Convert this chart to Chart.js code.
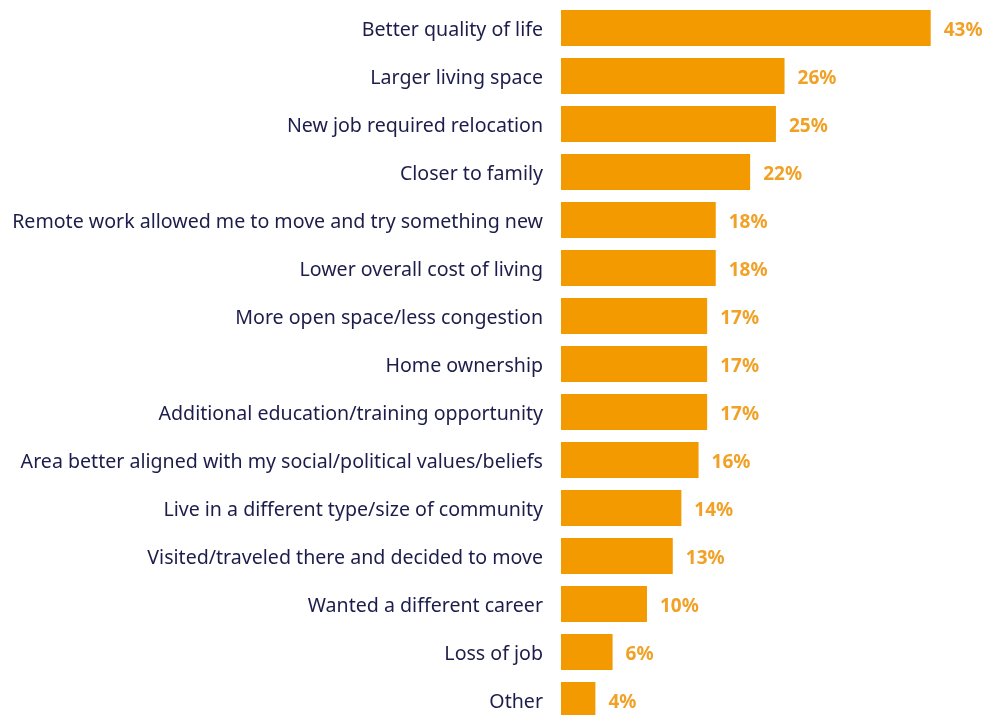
<!DOCTYPE html>
<html>
<head>
<meta charset="utf-8">
<script src="https://cdn.jsdelivr.net/npm/chart.js@4.4.1/dist/chart.umd.min.js"></script>
<style>
  html, body { margin: 0; padding: 0; background: #fff; overflow: hidden; }
  canvas { display: block; }
</style>
</head>
<body>
<canvas id="reasonsChart" width="984" height="724"></canvas>
<script>
// reasons for moving, share of respondents (%)
const reasons = [
  "Better quality of life",
  "Larger living space",
  "New job required relocation",
  "Closer to family",
  "Remote work allowed me to move and try something new",
  "Lower overall cost of living",
  "More open space/less congestion",
  "Home ownership",
  "Additional education/training opportunity",
  "Area better aligned with my social/political values/beliefs",
  "Live in a different type/size of community",
  "Visited/traveled there and decided to move",
  "Wanted a different career",
  "Loss of job",
  "Other"
];
const shares = [43, 26, 25, 22, 18, 18, 17, 17, 17, 16, 14, 13, 10, 6, 4];

const BAR_COLOR = "#f39a00";
const VALUE_COLOR = "#f0a126";
const LABEL_COLOR = "#1b1d4a";
const FONT = "'Noto Sans', 'Open Sans', sans-serif";

// write "NN%" just past the end of each bar
const valueLabels = {
  id: "valueLabels",
  afterDatasetsDraw(chart) {
    const ctx = chart.ctx;
    const meta = chart.getDatasetMeta(0);
    ctx.save();
    ctx.font = "bold 19px " + FONT;
    ctx.fillStyle = VALUE_COLOR;
    ctx.textAlign = "left";
    ctx.textBaseline = "middle";
    meta.data.forEach((bar, i) => {
      ctx.fillText(shares[i] + "%", bar.x + 13, bar.y + 3);
    });
    ctx.restore();
  }
};

new Chart(document.getElementById("reasonsChart"), {
  type: "bar",
  data: {
    labels: reasons,
    datasets: [{
      data: shares,
      backgroundColor: BAR_COLOR,
      borderWidth: 0,
      barPercentage: 0.75,
      categoryPercentage: 1
    }]
  },
  options: {
    indexAxis: "y",
    responsive: false,
    animation: false,
    layout: { padding: { top: 4, right: 0, bottom: 0, left: 0 } },
    plugins: {
      legend: { display: false },
      tooltip: { enabled: false }
    },
    scales: {
      x: {
        display: false,
        min: 0,
        max: 49.2
      },
      y: {
        // fixed label column, and no extra room above/below the rows
        afterFit: scale => {
          scale.width = 561;
          scale.paddingTop = 0;
          scale.paddingBottom = 0;
        },
        grid: { display: false, drawTicks: false },
        border: { display: false },
        ticks: {
          padding: 18,
          labelOffset: 2,
          color: LABEL_COLOR,
          font: { family: FONT, size: 19.6 }
        }
      }
    }
  },
  plugins: [valueLabels]
});
</script>
</body>
</html>
